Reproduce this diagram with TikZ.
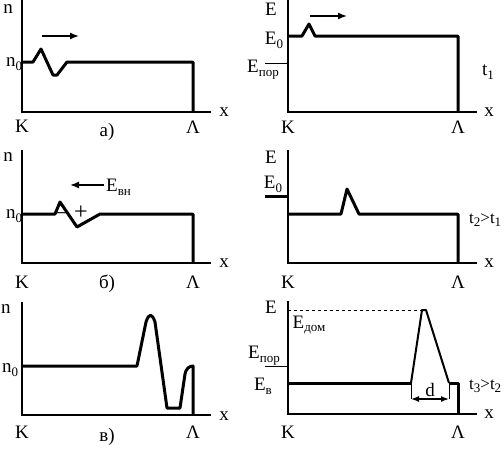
\documentclass[tikz,border=0pt]{standalone}
\usepackage{fontspec}
\setmainfont{Liberation Serif}
\usetikzlibrary{arrows.meta}
\newcommand\lsub[1]{\raisebox{-0.45ex}{\fontsize{13}{13}\selectfont #1}}
\begin{document}
\begin{tikzpicture}[x=1pt,y=-1pt,
  axis/.style={line width=2pt},
  curve/.style={line width=3pt,line join=round},
  thinln/.style={line width=1pt},
  arr/.style={line width=1.4pt,-{Latex[length=9pt,width=7pt]}},
  lbl/.style={font=\fontsize{19}{19}\selectfont,inner sep=0pt},
  tlbl/.style={font=\fontsize{17}{17}\selectfont,inner sep=0pt,anchor=west}]
\useasboundingbox (0,0) rectangle (504,448);
% ---------- panel a (top left)
\draw[axis] (22,0) -- (22,112) -- (211,112);
\draw[curve] (22,62) -- (33,62) -- (41,49) -- (53,75) -- (57,75) -- (67,62) -- (193,62) -- (193,112);
\coordinate (a1s) at (42,36); \coordinate (a1e) at (79,36);
\draw[arr] (a1s) -- (a1e);
\node[lbl] (na) at (8,9) {n};
\node[lbl] (n0a) at (14,64) {n\lsub{0}};
\node[lbl] (Ka) at (22,126) {K};
\node[lbl] (capa) at (107,132) {а)};
\node[lbl] (Aa) at (193,127) {Λ};
\node[lbl] (xa) at (224,112) {x};
% ---------- panel top right
\draw[axis] (288,0) -- (288,112) -- (477,112);
\draw[curve] (288,36) -- (302,36) -- (309,24) -- (315,36) -- (458,36) -- (458,112);
\draw[thinln] (265,63) -- (288,63);
\coordinate (a2s) at (310,16); \coordinate (a2e) at (347,16);
\draw[arr] (a2s) -- (a2e);
\node[lbl] (Eb) at (271,9) {E};
\node[lbl] (E0b) at (274,40) {E\lsub{0}};
\node[lbl] (Eporb) at (263,70) {E\lsub{пор}};
\node[lbl] (t1b) at (488,72) {t\lsub{1}};
\node[lbl] (Kb) at (288,127) {K};
\node[lbl] (Ab) at (458,127) {Λ};
\node[lbl] (xb) at (489,112) {x};
% ---------- panel b (middle left)
\draw[axis] (22,150) -- (22,263) -- (211,263);
\draw[curve] (22,214) -- (55,214) -- (60,202) -- (77,227) -- (100,214) -- (193,214) -- (193,263);
\coordinate (a3s) at (104,185); \coordinate (a3e) at (70,185);
\draw[arr] (a3s) -- (a3e);
\node[lbl,anchor=west] (Evn) at (106,187) {E\lsub{вн}};
\node[lbl,font=\fontsize{22}{22}\selectfont] (minus) at (62,217) {−};
\node[lbl,font=\fontsize{24}{24}\selectfont] (plus) at (81,213) {+};
\node[lbl] (nc) at (8,157) {n};
\node[lbl] (n0c) at (14,216) {n\lsub{0}};
\node[lbl] (Kc) at (22,282) {K};
\node[lbl] (capc) at (107,284) {б)};
\node[lbl] (Ac) at (193,282) {Λ};
\node[lbl] (xc) at (224,263) {x};
% ---------- panel middle right
\draw[axis] (288,150) -- (288,263) -- (477,263);
\draw[curve] (288,214) -- (341,214) -- (347,189) -- (359,214) -- (458,214) -- (458,263);
\draw[curve] (265,196) -- (288,196);
\node[lbl] (Ed) at (271,157) {E};
\node[lbl] (E0d) at (273,184) {E\lsub{0}};
\node[tlbl] (t2d) at (469,220) {t\lsub{2}>t\lsub{1}};
\node[lbl] (Kd) at (288,282) {K};
\node[lbl] (Ad) at (458,282) {Λ};
\node[lbl] (xd) at (489,263) {x};
% ---------- panel v (bottom left)
\draw[axis] (22,302) -- (22,415) -- (211,415);
\draw[curve] (22,366) -- (137,366) -- (146,322) .. controls (149,313) and (152,313) .. (155,322)
  -- (167,408) -- (180,408) -- (185,374) .. controls (186,369) and (189,366) .. (193,366) -- (193,415);
\node[lbl] (ne) at (6,309) {n};
\node[lbl] (n0e) at (10,370) {n\lsub{0}};
\node[lbl] (Ke) at (22,432) {K};
\node[lbl] (cape) at (107,437) {в)};
\node[lbl] (Ae) at (193,432) {Λ};
\node[lbl] (xe) at (224,416) {x};
% ---------- panel bottom right
\draw[axis] (288,301) -- (288,414) -- (477,414);
\draw[curve] (288,383) -- (411,383);
\draw[line width=2pt,line join=round] (411,383) -- (422,310) -- (426,310) -- (449,383);
\draw[curve] (449,383) -- (458,383) -- (458,414);
\draw[thinln,dashed] (288,310) -- (422,310);
\draw[thinln] (265,366) -- (288,366);
\coordinate (dl) at (411,399); \coordinate (dr) at (449,399);
\draw[thinln] (411,383) -- (dl);
\draw[thinln] (449,383) -- (dr);
\draw[line width=1.4pt,{Latex[length=8pt,width=6pt]}-{Latex[length=8pt,width=6pt]}] (dl) -- (dr);
\node[lbl] (dlab) at (430,390) {d};
\node[lbl] (Ef) at (271,307) {E};
\node[lbl] (Edom) at (309,325) {E\lsub{дом}};
\node[lbl] (Eporf) at (264,356) {E\lsub{пор}};
\node[lbl] (Evf) at (263,386) {E\lsub{в}};
\node[tlbl] (t3f) at (469,386) {t\lsub{3}>t\lsub{2}};
\node[lbl] (Kf) at (288,432) {K};
\node[lbl] (Af) at (458,432) {Λ};
\node[lbl] (xf) at (489,414) {x};
\end{tikzpicture}
\end{document}
